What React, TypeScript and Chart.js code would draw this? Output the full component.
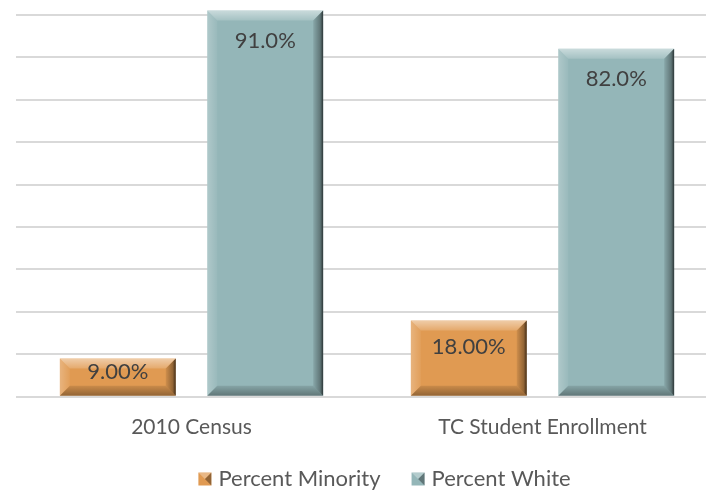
import React, { useEffect, useRef } from "react";
import { Chart, registerables } from "chart.js";

Chart.register(...registerables);

const categories = ["2010 Census", "TC Student Enrollment"];
const minorityValues = [9, 18];
const whiteValues = [91, 82];
const seriesNames = ["Percent Minority", "Percent White"];
const seriesDecimals = [2, 1];
const seriesColors = ["#E09A52", "#94B6B8"];
const yMax = 93.5;
const yStep = 10;

const FONT = "Lato, 'Open Sans', sans-serif";

function bevelPlugin() {
  return {
    id: "bevel",
    afterDatasetsDraw(chart: any) {
      const ctx = chart.ctx;
      chart.data.datasets.forEach((ds: any, di: number) => {
        const meta = chart.getDatasetMeta(di);
        meta.data.forEach((bar: any, i: number) => {
          const l = bar.x - bar.width / 2;
          const r = bar.x + bar.width / 2;
          const t = bar.y;
          const bt = bar.base;
          const h = bt - t;
          const b = Math.min(10, h / 3);
          ctx.save();
          let g = ctx.createLinearGradient(0, t, 0, t + b);
          g.addColorStop(0, "rgba(255,255,255,0.5)");
          g.addColorStop(1, "rgba(255,255,255,0.15)");
          ctx.fillStyle = g;
          ctx.beginPath();
          ctx.moveTo(l, t); ctx.lineTo(r, t); ctx.lineTo(r - b, t + b); ctx.lineTo(l + b, t + b);
          ctx.closePath(); ctx.fill();
          g = ctx.createLinearGradient(l, 0, l + b, 0);
          g.addColorStop(0, "rgba(255,255,255,0.25)");
          g.addColorStop(1, "rgba(255,255,255,0.05)");
          ctx.fillStyle = g;
          ctx.beginPath();
          ctx.moveTo(l, t); ctx.lineTo(l + b, t + b); ctx.lineTo(l + b, bt - b); ctx.lineTo(l, bt);
          ctx.closePath(); ctx.fill();
          g = ctx.createLinearGradient(r - b, 0, r, 0);
          g.addColorStop(0, "rgba(0,0,0,0.08)");
          g.addColorStop(0.7, "rgba(0,0,0,0.35)");
          g.addColorStop(1, "rgba(0,0,0,0.7)");
          ctx.fillStyle = g;
          ctx.beginPath();
          ctx.moveTo(r, t); ctx.lineTo(r, bt); ctx.lineTo(r - b, bt - b); ctx.lineTo(r - b, t + b);
          ctx.closePath(); ctx.fill();
          g = ctx.createLinearGradient(0, bt - b, 0, bt);
          g.addColorStop(0, "rgba(0,0,0,0.1)");
          g.addColorStop(1, "rgba(0,0,0,0.35)");
          ctx.fillStyle = g;
          ctx.beginPath();
          ctx.moveTo(l, bt); ctx.lineTo(r, bt); ctx.lineTo(r - b, bt - b); ctx.lineTo(l + b, bt - b);
          ctx.closePath(); ctx.fill();
          ctx.restore();

          const v = ds.data[i];
          const txt = v.toFixed(seriesDecimals[di]) + "%";
          const off = Math.min(30, h * 0.35);
          ctx.save();
          ctx.font = `22px ${FONT}`;
          ctx.fillStyle = "#404040";
          ctx.textAlign = "center";
          ctx.textBaseline = "middle";
          ctx.fillText(txt, bar.x, t + off);
          ctx.restore();
        });
      });
    },
    afterDraw(chart: any) {
      const ctx = chart.ctx;
      ctx.save();
      ctx.font = `22px ${FONT}`;
      const box = 13;
      const gap = 7;
      const itemGap = 31;
      const items = chart.data.datasets.map((d: any) => ({
        label: d.label,
        color: d.backgroundColor,
        w: box + gap + ctx.measureText(d.label).width,
      }));
      const total = items.reduce((s: number, it: any) => s + it.w, 0) + itemGap * (items.length - 1);
      let x = 384.5 - total / 2;
      const y = 479;
      items.forEach((it: any) => {
        const bx = x, by = y - box / 2;
        ctx.fillStyle = it.color;
        ctx.fillRect(bx, by, box, box);
        ctx.fillStyle = "rgba(0,0,0,0.35)";
        ctx.beginPath();
        ctx.moveTo(bx + box, by); ctx.lineTo(bx + box, by + box); ctx.lineTo(bx + box / 2, by + box / 2);
        ctx.closePath(); ctx.fill();
        ctx.fillStyle = "rgba(255,255,255,0.3)";
        ctx.beginPath();
        ctx.moveTo(bx, by); ctx.lineTo(bx + box, by); ctx.lineTo(bx + box / 2, by + box / 2);
        ctx.closePath(); ctx.fill();
        ctx.fillStyle = "#595959";
        ctx.textAlign = "left";
        ctx.textBaseline = "middle";
        ctx.fillText(it.label, x + box + gap, y);
        x += it.w + itemGap;
      });
      ctx.restore();
    },
  };
}

export default function App() {
  const ref = useRef<HTMLCanvasElement>(null);
  useEffect(() => {
    if (!ref.current) return;
    const chart = new Chart(ref.current, {
      type: "bar",
      data: {
        labels: categories,
        datasets: [
          { label: seriesNames[0], data: minorityValues, backgroundColor: seriesColors[0] },
          { label: seriesNames[1], data: whiteValues, backgroundColor: seriesColors[1] },
        ],
      },
      options: {
        responsive: false,
        animation: false,
        layout: { padding: { left: 16, right: 12, top: 0, bottom: 33 } },
        datasets: { bar: { categoryPercentage: 0.84, barPercentage: 0.786 } } as any,
        plugins: { legend: { display: false }, tooltip: { enabled: false } },
        scales: {
          x: {
            grid: { display: false, drawTicks: false },
            border: { display: false },
            ticks: { color: "#595959", font: { family: FONT, size: 21 }, padding: 18 },
          },
          y: {
            min: 0,
            max: yMax,
            ticks: { display: false, stepSize: yStep },
            border: { display: false },
            grid: {
              drawTicks: false,
              lineWidth: 2,
              color: (c: any) => (c.tick && c.tick.value % yStep === 0 ? "#D9D9D9" : "rgba(0,0,0,0)"),
            },
          },
        },
      },
      plugins: [bevelPlugin()],
    });
    return () => chart.destroy();
  }, []);
  return (
    <div style={{ position: "absolute", left: 0, top: 0, width: 706, height: 491, overflow: "hidden", background: "#fff" }}>
      <canvas ref={ref} width={730} height={491} />
    </div>
  );
}
